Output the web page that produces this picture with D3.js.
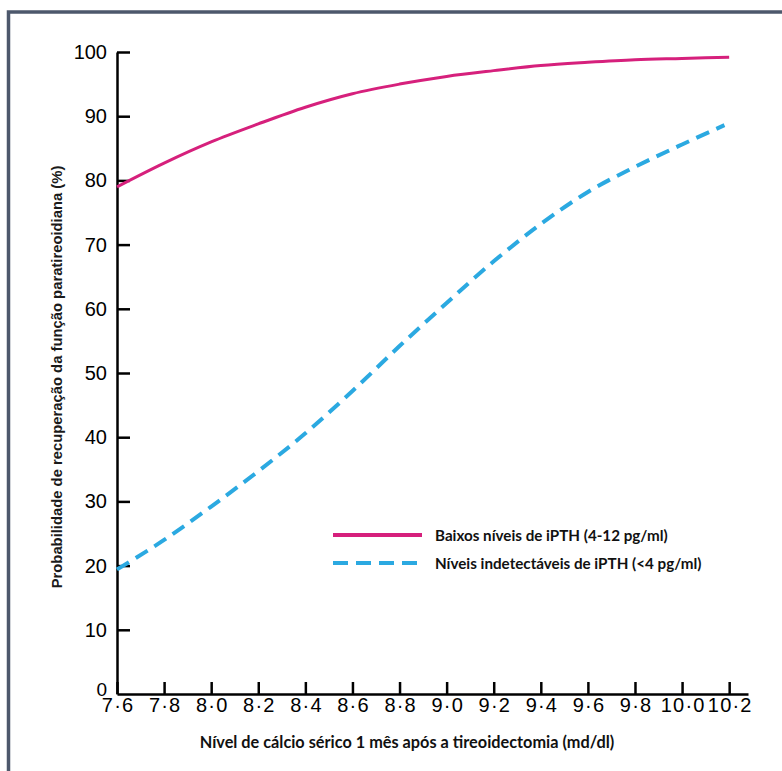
<!DOCTYPE html>
<html>
<head>
<meta charset="utf-8">
<script src="https://cdn.jsdelivr.net/npm/d3@7"></script>
<style>
  body { margin: 0; background: #fff; }
</style>
</head>
<body>
<div id="chart-area"></div>
<script>
// Data
const calcium = [7.6, 7.8, 8.0, 8.2, 8.4, 8.6, 8.8, 9.0, 9.2, 9.4, 9.6, 9.8, 10.0, 10.2];
const lowPTH = [79, 82.7, 86.0, 88.8, 91.4, 93.5, 95.0, 96.2, 97.1, 97.9, 98.4, 98.8, 99.0, 99.2];
const calciumUndet = [7.6, 7.8, 8.0, 8.2, 8.4, 8.6, 8.8, 9.0, 9.2, 9.4, 9.6, 9.8, 10.0, 10.18];
const undetPTH = [19.4, 24, 29.2, 34.7, 40.6, 47.2, 54.2, 60.9, 67.4, 73.2, 78.2, 82.1, 85.6, 88.6];
const xTicks = [7.6, 7.8, 8.0, 8.2, 8.4, 8.6, 8.8, 9.0, 9.2, 9.4, 9.6, 9.8, 10.0, 10.2];
const yTicks = [0, 10, 20, 30, 40, 50, 60, 70, 80, 90, 100];
const legendLabels = ["Baixos níveis de iPTH (4-12 pg/ml)", "Níveis indetectáveis de iPTH (<4 pg/ml)"];

const svgWidth = 782, svgHeight = 771;
const magenta = "#d6207c";
const blue = "#2ba9e1";

const canvas = d3.select("#chart-area")
  .append("svg")
    .attr("width", svgWidth)
    .attr("height", svgHeight);

// frame (only top and left edges show in the crop)
canvas.append("path")
  .attr("d", `M8.5,${svgHeight} V12 H${svgWidth}`)
  .attr("fill", "none")
  .attr("stroke", "#4d586c")
  .attr("stroke-width", 3.5);

// the x axis line runs a bit past the last tick
const x = d3.scaleLinear()
  .domain([7.6, 10.28])
  .range([117, 748]);
const y = d3.scaleLinear()
  .domain([0, 100])
  .range([694, 52]);

const xAxisCall = d3.axisBottom(x)
  .tickValues(xTicks)
  .tickFormat(d => d3.format(".1f")(d).replace(".", "·"))
  .tickSizeInner(-12)
  .tickSizeOuter(0)
  .tickPadding(4);
const xAxis = canvas.append("g")
  .attr("transform", `translate(0,${y(0)})`)
  .call(xAxisCall);

const yAxisCall = d3.axisLeft(y)
  .tickValues(yTicks)
  .tickSizeInner(-13)
  .tickSizeOuter(0)
  .tickPadding(10);
const yAxis = canvas.append("g")
  .attr("transform", `translate(${x(7.6)},0)`)
  .call(yAxisCall);
yAxis.select(".tick:first-of-type line").remove();

[xAxis, yAxis].forEach(ax => {
  ax.select(".domain")
    .attr("stroke", "#000")
    .attr("stroke-width", 2.5);
  ax.selectAll(".tick line")
    .attr("stroke", "#000")
    .attr("stroke-width", 2.5);
  ax.selectAll("text")
    .attr("fill", "#000")
    .attr("font-family", "Liberation Sans, Arial, sans-serif")
    .attr("font-size", 20);
});
xAxis.selectAll("text")
  .attr("letter-spacing", 1.2)
  .attr("dx", 0.6);
// zero sits a little higher so it clears 7·6
yAxis.select(".tick:first-of-type text")
  .attr("y", -5)
  .attr("font-size", 19);

const line = d3.line()
  .x(d => x(d[0]))
  .y(d => y(d[1]))
  .curve(d3.curveMonotoneX);

canvas.append("path")
  .datum(d3.zip(calcium, lowPTH))
  .attr("fill", "none")
  .attr("stroke", magenta)
  .attr("stroke-width", 3)
  .attr("d", line);

canvas.append("path")
  .datum(d3.zip(calciumUndet, undetPTH))
  .attr("fill", "none")
  .attr("stroke", blue)
  .attr("stroke-width", 4)
  .attr("stroke-dasharray", "14,8")
  .attr("d", line);

// Legend
const legend = canvas.append("g")
  .attr("transform", "translate(333,535)");
const legendItems = legend.selectAll("g")
  .data(legendLabels)
  .enter()
  .append("g")
    .attr("transform", (d, i) => `translate(0,${i * 28})`);
legendItems.append("line")
  .attr("x1", 0)
  .attr("x2", 89)
  .attr("stroke", (d, i) => i === 0 ? magenta : blue)
  .attr("stroke-width", 4)
  .attr("stroke-dasharray", (d, i) => i === 0 ? null : "15,8");
legendItems.append("text")
  .text(d => d)
  .attr("x", 102)
  .attr("y", 6)
  .attr("font-family", "Lato, sans-serif")
  .attr("font-weight", 700)
  .attr("font-size", 15.2)
  .attr("fill", "#111");

// Axis titles
canvas.append("text")
  .text("Nível de cálcio sérico 1 mês após a tireoidectomia (md/dl)")
  .attr("x", 407)
  .attr("y", 748)
  .attr("text-anchor", "middle")
  .attr("font-family", "Lato, sans-serif")
  .attr("font-weight", 700)
  .attr("font-size", 16.3)
  .attr("fill", "#111");

canvas.append("text")
  .text("Probabilidade de recuperação da função paratireoidiana (%)")
  .attr("transform", "translate(62,377) rotate(-90)")
  .attr("text-anchor", "middle")
  .attr("font-family", "Liberation Sans, Arial, sans-serif")
  .attr("font-weight", 700)
  .attr("font-size", 14.8)
  .attr("fill", "#1a1a1a");
</script>
</body>
</html>
